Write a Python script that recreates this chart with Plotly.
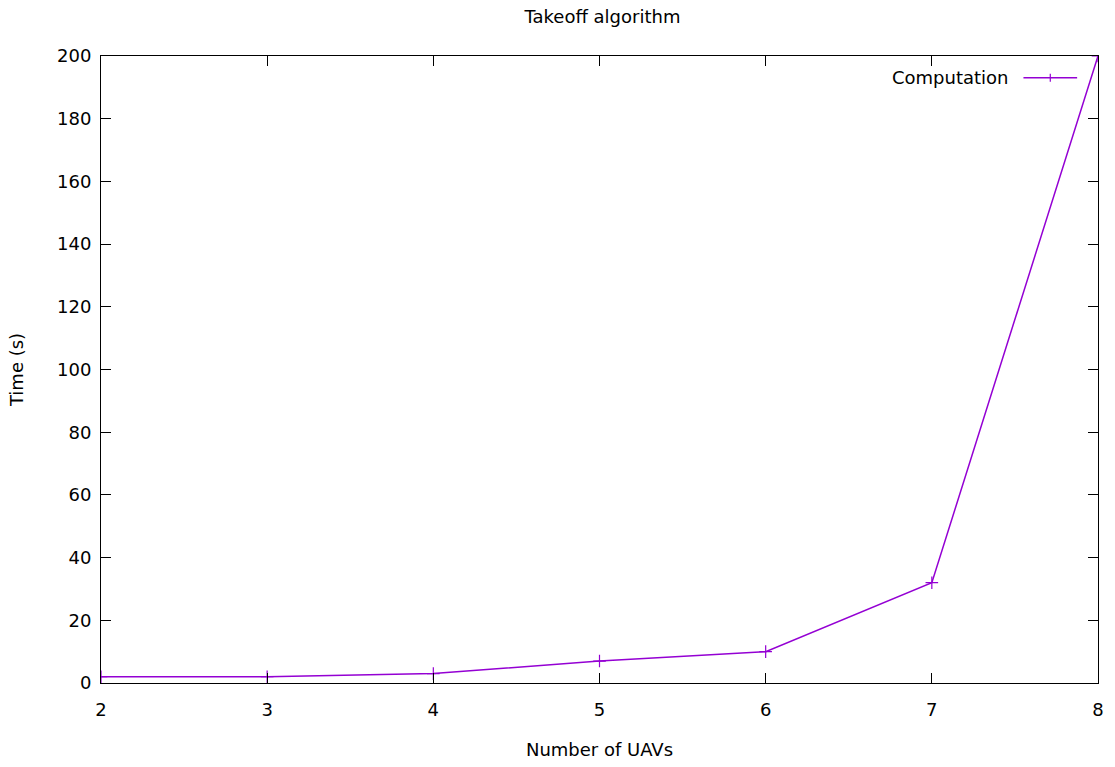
import plotly.graph_objects as go

num_uavs = [2, 3, 4, 5, 6, 7, 8]
time_s = [2, 2, 3, 7, 10, 32, 200]
series_name = "Computation"
title_text = "Takeoff algorithm"
x_label = "Number of UAVs"
y_label = "Time (s)"

color = "#9400D3"
font_family = "DejaVu Sans"
fsize = 18

fig = go.Figure()
fig.add_trace(go.Scatter(
    x=num_uavs, y=time_s, mode="lines+markers", name=series_name,
    line=dict(color=color, width=1.5),
    marker=dict(symbol="cross-thin", size=9, line=dict(color=color, width=1.2)),
    cliponaxis=True, showlegend=False,
))

axis_common = dict(
    showgrid=False, zeroline=False, showline=True, linecolor="black", linewidth=1,
    mirror="allticks", ticks="inside", ticklen=10, tickwidth=1, tickcolor="black",
    tickfont=dict(family=font_family, size=fsize, color="black"),
)
fig.update_xaxes(range=[2, 8], tickvals=num_uavs, ticktext=[str(v) for v in num_uavs],
                 ticklabelstandoff=10, ticklabeloverflow="allow",
                 title=dict(text=x_label, font=dict(family=font_family, size=fsize, color="black"), standoff=24),
                 **axis_common)
fig.update_yaxes(range=[0, 200], dtick=20, ticklabelstandoff=5,
                 title=dict(text=y_label, font=dict(family=font_family, size=fsize, color="black"), standoff=28),
                 **axis_common)

# gnuplot-style key: text on the left, sample on the right
ky = (689 - 78) / 633
fig.add_annotation(xref="paper", yref="paper", x=(1016 - 101) / 1003, y=ky,
                   text=series_name, showarrow=False, xanchor="right", yanchor="middle",
                   font=dict(family=font_family, size=fsize, color="black"))
fig.add_shape(type="line", xref="paper", yref="paper",
              x0=(1029 - 101) / 1003, x1=(1083 - 101) / 1003, y0=ky, y1=ky,
              line=dict(color=color, width=1.5))
fig.add_shape(type="line", xref="paper", yref="paper",
              x0=(1056 - 101) / 1003, x1=(1056 - 101) / 1003,
              y0=(689 - 74) / 633, y1=(689 - 82) / 633,
              line=dict(color=color, width=1.2))

W, H = 1115, 767
fig.update_layout(
    width=W, height=H,
    margin=dict(l=101, r=11, t=56, b=78),
    paper_bgcolor="white", plot_bgcolor="white",
    title=dict(text=title_text, x=(101 + 1003 / 2) / W, xanchor="center",
               y=1 - 17 / H, yanchor="middle",
               font=dict(family=font_family, size=fsize, color="black")),
    showlegend=False,
)

fig.write_html("out.html", config={"displayModeBar": False},
               post_script="document.body.style.margin='0';document.body.style.overflow='hidden';")
